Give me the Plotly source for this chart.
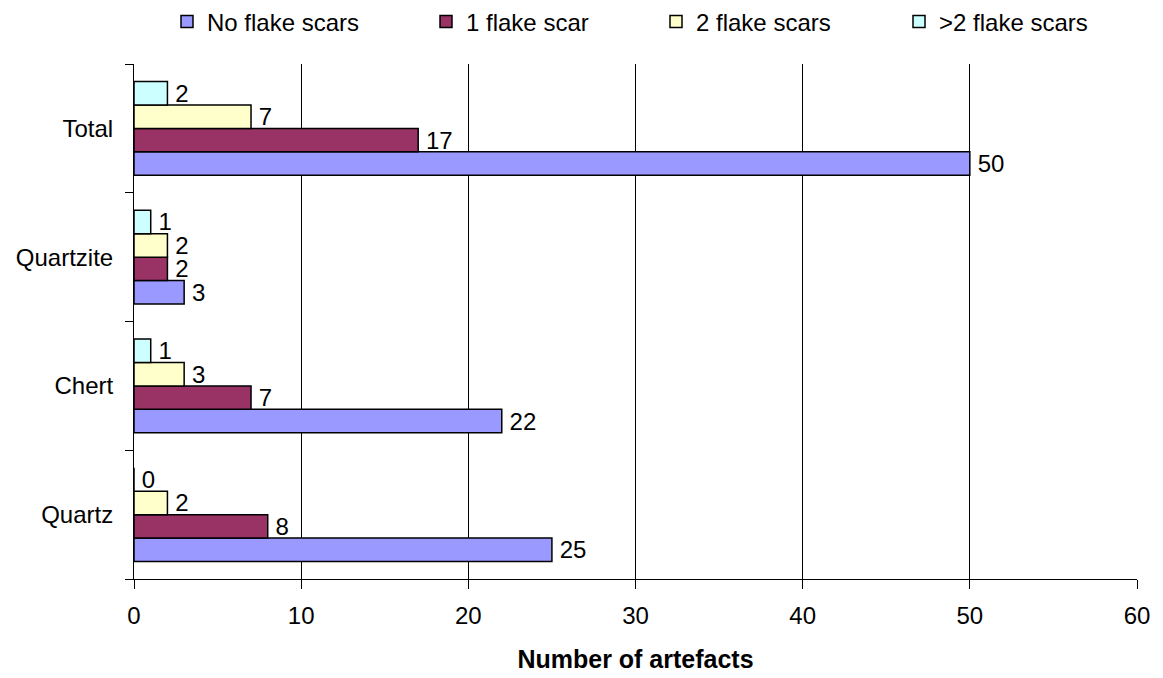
import plotly.graph_objects as go

# Raw material categories (bottom to top on the chart)
materials = ["Quartz", "Chert", "Quartzite", "Total"]

# Artefact counts by number of flake scars
no_scars = [25, 22, 3, 50]
one_scar = [8, 7, 2, 17]
two_scars = [2, 3, 2, 7]
more_scars = [0, 1, 1, 2]

series_names = ["No flake scars", "1 flake scar", "2 flake scars", ">2 flake scars"]
series_values = [no_scars, one_scar, two_scars, more_scars]
series_colors = ["#9999FF", "#993366", "#FFFFCC", "#CCFFFF"]

x_ticks = [0, 10, 20, 30, 40, 50, 60]

FONT = "Liberation Sans, Arial, sans-serif"

fig = go.Figure()
legend_ids = ["legend", "legend2", "legend3", "legend4"]
for name, vals, color, lg in zip(series_names, series_values, series_colors, legend_ids):
    fig.add_trace(go.Bar(
        name=name,
        y=materials,
        x=vals,
        orientation="h",
        marker=dict(color=color, line=dict(color="black", width=1.5)),
        text=vals,
        texttemplate="\u2009%{text}",
        textposition="outside",
        constraintext="none",
        cliponaxis=False,
        textfont=dict(family=FONT, size=24, color="black"),
        legend=lg,
    ))

# Four single-entry legends laid out in a row across the top
legend_px = [167, 426, 656, 899]
plot_left, plot_right = 134, 1137
plot_top, plot_bottom = 64, 579
legend_layout = {}
for lg, px in zip(legend_ids, legend_px):
    legend_layout[lg] = dict(
        x=(px - plot_left) / (plot_right - plot_left),
        xanchor="left",
        y=1.0 + (plot_top - 22) / (plot_bottom - plot_top),
        yanchor="middle",
        orientation="h",
        font=dict(family=FONT, size=24, color="black"),
        bgcolor="rgba(0,0,0,0)",
        borderwidth=0,
    )

fig.update_layout(
    width=1163,
    height=678,
    margin=dict(l=plot_left, r=1163 - plot_right, t=plot_top, b=678 - plot_bottom,
                autoexpand=False),
    paper_bgcolor="white",
    plot_bgcolor="white",
    barmode="group",
    bargap=0.27,
    bargroupgap=0,
    font=dict(family=FONT, size=24, color="black"),
    showlegend=True,
    **legend_layout,
)

fig.update_xaxes(
    range=[0, 60],
    tickvals=x_ticks,
    showgrid=True,
    gridcolor="black",
    gridwidth=1,
    zeroline=False,
    showline=True,
    linecolor="black",
    linewidth=1,
    ticks="outside",
    ticklen=9,
    tickcolor="black",
    tickfont=dict(family=FONT, size=24),
    ticklabelstandoff=6,
    title=dict(text="<b>Number of artefacts</b>",
               font=dict(family=FONT, size=25), standoff=22),
)

fig.update_yaxes(
    categoryorder="array",
    categoryarray=materials,
    showline=True,
    linecolor="black",
    linewidth=1,
    ticks="outside",
    tickson="boundaries",
    ticklen=8,
    tickcolor="black",
    showgrid=False,
    tickfont=dict(family=FONT, size=24),
    ticklabelstandoff=15,
)

fig.write_html("out.html")
